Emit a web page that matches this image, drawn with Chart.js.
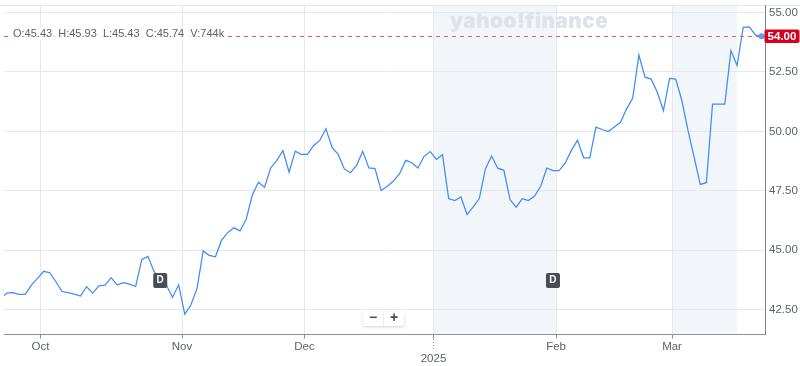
<!DOCTYPE html>
<html><head><meta charset="utf-8">
<style>html,body{margin:0;padding:0;background:#fff}canvas{display:block}</style>
<script src="https://cdn.jsdelivr.net/npm/chart.js@4"></script>
</head><body><canvas id="c" width="800" height="366"></canvas>
<script>
const closes = [42.95,43.19,43.21,43.14,43.14,43.53,43.81,44.11,44.05,43.67,43.26,43.21,43.15,43.07,43.46,43.19,43.50,43.53,43.84,43.53,
43.63,43.57,43.47,44.61,44.74,44.09,43.81,43.53,43.01,43.54,42.31,42.69,43.39,44.97,44.78,44.72,45.42,45.74,45.94,45.81,
46.29,47.31,47.86,47.65,48.46,48.78,49.19,48.28,49.17,49.03,49.03,49.41,49.62,50.11,49.32,49.03,48.42,48.26,48.57,49.16,
48.46,48.43,47.51,47.69,47.91,48.22,48.78,48.68,48.46,48.95,49.15,48.82,49.02,47.17,47.09,47.24,46.50,46.82,47.17,48.43,
48.96,48.45,48.36,47.13,46.81,47.17,47.09,47.28,47.69,48.46,48.35,48.35,48.67,49.20,49.63,48.89,48.89,50.18,50.08,49.99,
50.18,50.38,50.95,51.40,53.21,52.28,52.20,51.65,50.87,52.23,52.20,51.30,50.04,48.92,47.77,47.84,51.15,51.15,51.15,53.40,
52.77,54.38,54.40,54.05,54.00];
const monthLabels = ['Oct','Nov','Dec',['','2025'],'Feb','Mar'];
const monthPositions = [6.49,29.55,49.5,70.53,90.5,109.4];
const priceTicks = [42.5,45,47.5,50,52.5,55];
const weekendShade = [[70.53,90.5],[109.4,120]];
const dividendIndex = [26,90];
const lastPrice = 54.00;
const quote = 'O:45.43  H:45.93  L:45.43  C:45.74  V:744k';
const GRID='#e6e8ee', AX='#8b9199', TXT='#5b636a';
const FONT='"Liberation Sans",Arial,sans-serif';

function rr(ctx,x,y,w,h,r){ctx.beginPath();ctx.roundRect(x,y,w,h,r);}
const under={id:'under',beforeDraw(ch){
  const {ctx,chartArea:a,scales:{x}}=ch;ctx.save();
  ctx.fillStyle='#f2f5f9';
  weekendShade.forEach(([s,e])=>{const p=x.getPixelForValue(s),q=x.getPixelForValue(e);ctx.fillRect(p,a.top,q-p,a.bottom-a.top);});
  ctx.strokeStyle=GRID;ctx.lineWidth=1;ctx.beginPath();ctx.moveTo(0,5.5);ctx.lineTo(800,5.5);ctx.stroke();
  ctx.restore();
}};
const over={id:'over',afterDatasetsDraw(ch){
  const {ctx,chartArea:a,scales:{x,y}}=ch;ctx.save();
  // watermark
  ctx.font='900 20.5px Inter,'+FONT;ctx.fillStyle='#dfe2e9';ctx.textAlign='left';ctx.textBaseline='alphabetic';
  ctx.letterSpacing='0.6px';
  ctx.fillText('yahoo!finance',450,28);
  ctx.letterSpacing='0px';
  // price line
  const py=Math.round(y.getPixelForValue(lastPrice))+.5;
  ctx.strokeStyle='#f0566e';ctx.lineWidth=1;ctx.setLineDash([4,4]);
  ctx.beginPath();ctx.moveTo(a.left,py);ctx.lineTo(a.right,py);ctx.stroke();ctx.setLineDash([]);
  // quote text
  ctx.fillStyle='rgba(255,255,255,.85)';ctx.fillRect(11,27,217,13);
  ctx.font='11px '+FONT;ctx.fillStyle=TXT;ctx.textBaseline='middle';ctx.fillText(quote,13,33.5);
  // dividend badges
  dividendIndex.forEach(i=>{const c=x.getPixelForValue(i);
    ctx.fillStyle='#464d57';rr(ctx,c-7,273,14,15,2);ctx.fill();
    ctx.fillStyle='#fff';ctx.font='bold 10px '+FONT;ctx.textAlign='center';ctx.fillText('D',c,280.5);});
  // zoom buttons
  ctx.save();ctx.shadowColor='rgba(0,0,0,.18)';ctx.shadowBlur=3;ctx.shadowOffsetY=1;ctx.fillStyle='#fff';
  rr(ctx,363,312,41,14,2);ctx.fill();ctx.restore();
  ctx.strokeStyle='#eceef2';ctx.beginPath();ctx.moveTo(383.5,312);ctx.lineTo(383.5,326);ctx.stroke();
  ctx.fillStyle='#464d57';ctx.font='bold 14px '+FONT;ctx.textAlign='center';
  ctx.fillText('\u2212',373,318);ctx.fillText('+',394,318);
  // 2025 dotted tick
  const t=Math.round(x.getPixelForValue(monthPositions[3]))+.5;
  ctx.strokeStyle=AX;ctx.setLineDash([1,2]);ctx.beginPath();ctx.moveTo(t,339);ctx.lineTo(t,350);ctx.stroke();ctx.setLineDash([]);
  // last price tag
  ctx.fillStyle='#d3001f';rr(ctx,764.5,29.5,35,13.5,2);ctx.fill();
  ctx.fillStyle='#fff';ctx.font='bold 11.5px '+FONT;ctx.textAlign='center';ctx.fillText('54.00',782,36.5);
  ctx.restore();
}};
new Chart(document.getElementById('c'),{
  type:'line',
  data:{datasets:[{data:closes.map((v,i)=>({x:i,y:v})),borderColor:'#3f8cf2',borderWidth:1.25,tension:0,
    pointRadius:closes.map((v,i)=>i===closes.length-1?3:0),pointBackgroundColor:'#5b9ff5',pointBorderWidth:0,
    clip:{left:0,right:8,top:0,bottom:0}}]},
  plugins:[under,over],
  options:{
    responsive:false,animation:false,devicePixelRatio:1,
    layout:{padding:{left:4,top:5,right:0,bottom:0}},
    plugins:{legend:{display:false},tooltip:{enabled:false}},
    scales:{
      x:{type:'linear',min:0.543,max:124.55,
        afterBuildTicks(s){s.ticks=monthPositions.map(v=>({value:v}));},
        afterFit(s){s.height=31.5;s.paddingLeft=0;s.paddingRight=0;},
        grid:{color:GRID,tickColor:AX,tickLength:4,lineWidth:1},
        border:{color:AX,width:1},
        ticks:{autoSkip:false,maxRotation:0,minRotation:0,padding:2,color:TXT,font:{family:FONT,size:11.5,lineHeight:1.05},
          callback(v){const k=monthPositions.indexOf(v);return k<0?null:monthLabels[k];}}},
      y:{type:'linear',position:'right',min:41.45,max:55.32,
        afterBuildTicks(s){s.ticks=priceTicks.map(v=>({value:v}));},
        afterFit(s){s.width=35;s.paddingTop=0;s.paddingBottom=0;},
        grid:{color:GRID,drawTicks:false,lineWidth:1},
        border:{color:'#7b828a',width:1},
        ticks:{padding:4,color:TXT,font:{family:FONT,size:11.5},callback:v=>Number(v).toFixed(2)}}
    }
  }
});
</script></body></html>
